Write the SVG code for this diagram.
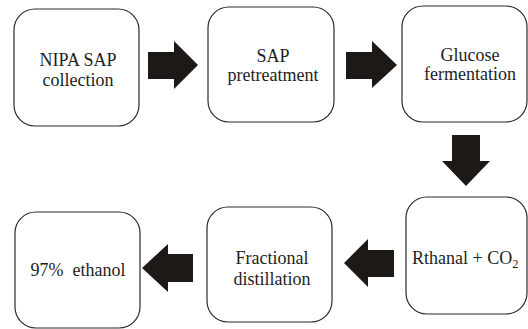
<svg xmlns="http://www.w3.org/2000/svg" width="528" height="329" viewBox="0 0 528 329">
<style>
.node-box{fill:#fff;stroke:#2a2a2a;stroke-width:1.2}
.node-label{font-family:'Liberation Serif','Times New Roman',serif;font-size:18px;fill:#1e1e1e;text-anchor:middle}
.flow-arrow{fill:#1c1916}
</style>
<rect width="528" height="329" fill="#fff"/>
<g id="connectors">
<polygon class="flow-arrow" points="148,52 174,52 174,41 198,65 174,89 174,79 148,79"/>
<polygon class="flow-arrow" points="346,52 372,52 372,41 397,65 372,88 372,79 346,79"/>
<polygon class="flow-arrow" points="452,135 480,135 480,161 490,161 466,186 442,161 452,161"/>
<polygon class="flow-arrow" points="394,250 368,250 368,239 344,263 368,287 368,277 394,277"/>
<polygon class="flow-arrow" points="193,254 168,254 168,244 142,268 168,292 168,282 193,282"/>
</g>
<g id="n1"><rect class="node-box" x="14" y="9" width="125" height="117" rx="21"/>
<text class="node-label" x="78" y="66">NIPA SAP</text><text class="node-label" x="78" y="86">collection</text></g>
<g id="n2"><rect class="node-box" x="208" y="7" width="126" height="115" rx="21"/>
<text class="node-label" x="273" y="62">SAP</text><text class="node-label" x="273" y="81">pretreatment</text></g>
<g id="n3"><rect class="node-box" x="402" y="6" width="125" height="116" rx="21"/>
<text class="node-label" x="470" y="61">Glucose</text><text class="node-label" x="470" y="80">fermentation</text></g>
<g id="n4"><rect class="node-box" x="406" y="197" width="121" height="117" rx="21"/>
<text class="node-label" x="412" y="264" style="text-anchor:start">Rthanal + CO<tspan font-size="12.5" dy="4">2</tspan></text></g>
<g id="n5"><rect class="node-box" x="207" y="207" width="125" height="115" rx="21"/>
<text class="node-label" x="272" y="264">Fractional</text><text class="node-label" x="272" y="285">distillation</text></g>
<g id="n6"><rect class="node-box" x="15" y="212" width="125" height="116" rx="21"/>
<text class="node-label" x="78" y="276" xml:space="preserve">97%  ethanol</text></g>
</svg>
